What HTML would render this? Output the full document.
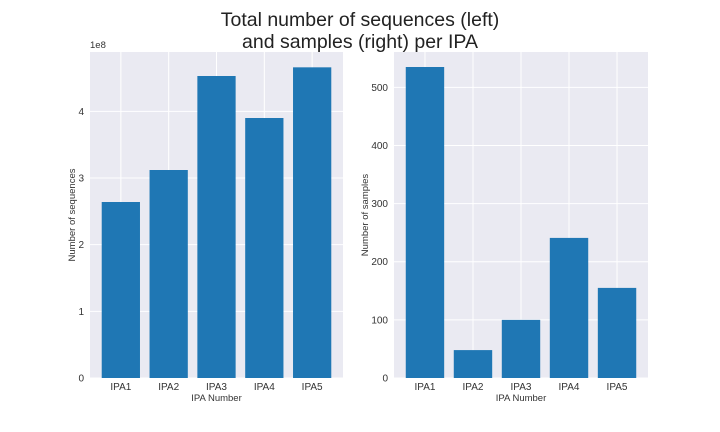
<!DOCTYPE html>
<html><head><meta charset="utf-8"><style>
body{margin:0;background:#fff;}
svg{display:block;font-family:"Liberation Sans",Arial,sans-serif;}
</style></head><body>
<svg id="chart" width="720" height="432">
<text x="360" y="26" text-anchor="middle" font-size="19.5" fill="#222">Total number of sequences (left)</text>
<text x="360" y="48" text-anchor="middle" font-size="19.5" fill="#222">and samples (right) per IPA</text>
</svg>
<script>
const categories = ["IPA1","IPA2","IPA3","IPA4","IPA5"];
const sequences = [2.64e8, 3.12e8, 4.53e8, 3.90e8, 4.66e8];
const samples = [535, 48, 100, 241, 155];
const seqTicks = [0,1,2,3,4];
const sampleTicks = [0,100,200,300,400,500];

const NS = "http://www.w3.org/2000/svg";
const svg = document.getElementById('chart');
function mk(tag, attrs, parent){const e=document.createElementNS(NS,tag);for(const k in attrs)e.setAttribute(k,attrs[k]);(parent||svg).appendChild(e);return e;}

function panel(cfg){
  const g = mk('g',{});
  
  
  const {x0,x1,y0,y1,ymax,scale}=cfg;
  const bg = mk('rect',{x:x0,y:y0,width:x1-x0,height:y1-y0,fill:'#eaeaf2'},g);
  
  
  const n=categories.length, lo=-0.645, hi=n-1+0.645;
  const xs=i=>x0+(i-lo)/(hi-lo)*(x1-x0);
  const ys=v=>y1-v/ymax*(y1-y0);
  const bw=0.8*(xs(1)-xs(0));
  cfg.ticks.forEach(t=>{
    const y=ys(t*scale);
    mk('line',{x1:x0,x2:x1,y1:y,y2:y,stroke:'#fff','stroke-width':1},g);
    const tx=mk('text',{x:x0-6,y:y+3.5,'text-anchor':'end','font-size':10,fill:'#333'},g);
    tx.textContent=t;
    
    
  });
  categories.forEach((c,i)=>{
    const x=xs(i);
    mk('line',{x1:x,x2:x,y1:y0,y2:y1,stroke:'#fff','stroke-width':1},g);
  });
  categories.forEach((c,i)=>{
    const x=xs(i);
    const v=cfg.values[i];
    const r=mk('rect',{x:x-bw/2,y:ys(v),width:bw,height:y1-ys(v),fill:'#1f77b4'},g);
    
    
    const t=mk('text',{x:x,y:y1+12,'text-anchor':'middle','font-size':10,fill:'#333'},g);
    t.textContent=c;
    
    
  });
  const xl=mk('text',{x:(x0+x1)/2,y:401,'text-anchor':'middle','font-size':9.5,fill:'#333'},g);
  xl.textContent='IPA Number';
  
  
  const yl=mk('text',{x:0,y:0,'text-anchor':'middle','font-size':9.5,fill:'#333',transform:`translate(${cfg.ylx},${(y0+y1)/2}) rotate(-90)`},g);
  yl.textContent=cfg.ylabel;
  
  
}
panel({name:'sequences-panel',x0:90,x1:343,y0:52,y1:378,ymax:4.89e8,scale:1e8,values:sequences,ticks:seqTicks,ylabel:'Number of sequences',ylx:75});
panel({name:'samples-panel',x0:394,x1:648,y0:52,y1:378,ymax:560.8,scale:1,values:samples,ticks:sampleTicks,ylabel:'Number of samples',ylx:368});
const off=mk('text',{x:90,y:48,'font-size':9.5,fill:'#333'});
off.textContent='1e8';


</script>
</body></html>
